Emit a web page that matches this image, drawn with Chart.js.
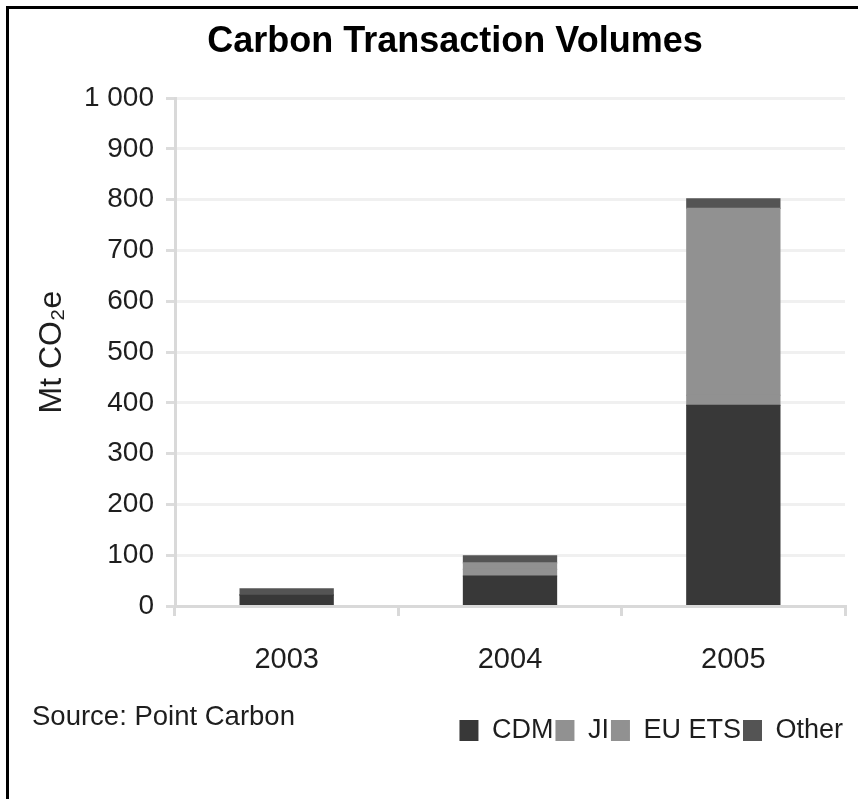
<!DOCTYPE html>
<html>
<head>
<meta charset="utf-8">
<script src="https://cdn.jsdelivr.net/npm/chart.js@4/dist/chart.umd.min.js"></script>
<style>
  html, body { margin: 0; padding: 0; background: #fff; overflow: hidden; }
  #wrap { position: relative; width: 858px; height: 799px; overflow: hidden; }
  #frame { position: absolute; left: 6px; top: 6px; right: -10px; bottom: -10px;
           border-left: 3px solid #000; border-top: 3px solid #000; pointer-events: none; }
  canvas { position: absolute; left: 0; top: 0; }
</style>
</head>
<body>
<div id="wrap">
  <canvas id="chart" width="910" height="799"></canvas>
  <div id="frame"></div>
</div>
<script>
// data (Mt CO2e)
const years = ['2003', '2004', '2005'];
const cdm = [22, 59, 395];
const ji = [0, 13, 20];
const euEts = [0, 13, 368];
const other = [12, 14, 19];

const seriesNames = ['CDM', 'JI', 'EU ETS', 'Other'];
const seriesColors = ['#383838', '#919191', '#919191', '#545454'];
const yMax = 1000;
const yStep = 100;
const sourceNote = 'Source: Point Carbon';

const SANS = "'Liberation Sans', Arial, sans-serif";
const TEXT = '#1e1e1e';

// thousands with a space, like "1 000"
function fmt(v) {
  return String(v).replace(/\B(?=(\d{3})+(?!\d))/g, ' ');
}

// the "Source" note sits left of the legend
const sourcePlugin = {
  id: 'sourceNote',
  afterDraw(chart) {
    const c = chart.ctx;
    c.save();
    c.font = `27.5px ${SANS}`;
    c.fillStyle = TEXT;
    c.textBaseline = 'middle';
    c.textAlign = 'left';
    c.fillText(sourceNote, 32, 717);
    c.restore();
  }
};

const ctx = document.getElementById('chart').getContext('2d');

const config = {
  type: 'bar',
  data: {
    labels: years,
    datasets: [cdm, ji, euEts, other].map((vals, i) => ({
      label: seriesNames[i],
      data: vals,
      backgroundColor: seriesColors[i],
      borderWidth: 0,
      inflateAmount: 0.6,
      barPercentage: 1,
      categoryPercentage: 0.417
    }))
  },
  options: {
    responsive: false,
    animation: false,
    // left pad keeps the title centred where the original has it
    layout: { padding: { left: 65, right: 65, top: 0, bottom: 45 } },
    plugins: {
      title: {
        display: true,
        text: 'Carbon Transaction Volumes',
        color: '#000',
        font: { family: SANS, size: 36, weight: 'bold' },
        padding: { top: 20, bottom: 35 }
      },
      legend: {
        position: 'bottom',
        align: 'end',
        labels: {
          boxWidth: 19,
          boxHeight: 21,
          padding: 2,
          color: TEXT,
          font: { family: SANS, size: 27 }
        }
      },
      tooltip: { enabled: false }
    },
    scales: {
      x: {
        stacked: true,
        grid: {
          offset: true,
          drawOnChartArea: false,
          tickLength: 10,
          tickColor: '#d9d9d9',
          lineWidth: 3
        },
        border: { color: '#d9d9d9', width: 3 },
        ticks: { color: TEXT, padding: 27, font: { family: SANS, size: 29 } },
        afterFit(scale) { scale.height = 109; }
      },
      y: {
        stacked: true,
        min: 0,
        max: yMax,
        grid: { color: '#f0f0f0', tickColor: '#dcdcdc', lineWidth: 3, tickLength: 9 },
        border: { color: '#d9d9d9', width: 3 },
        ticks: {
          stepSize: yStep,
          padding: 12,
          color: TEXT,
          font: { family: SANS, size: 28 },
          callback: v => fmt(v)
        },
        title: {
          display: true,
          text: 'Mt CO₂e',
          color: TEXT,
          font: { family: SANS, size: 32 },
          // negative so the axis title sits left of the padded box
          padding: { top: -32, bottom: 0 }
        },
        afterFit(scale) { scale.width = 110; }
      }
    }
  },
  plugins: [sourcePlugin]
};

new Chart(ctx, config);
</script>
</body>
</html>
